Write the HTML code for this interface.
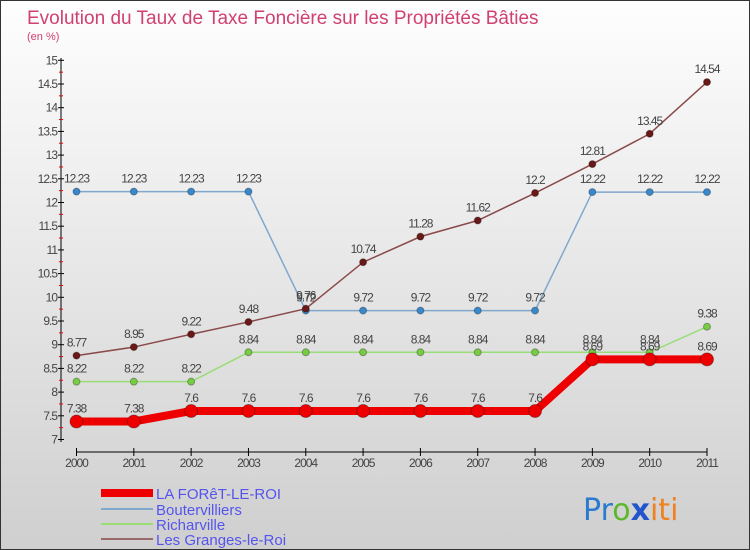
<!DOCTYPE html>
<html><head><meta charset="utf-8"><style>
body{margin:0}
#c{width:750px;height:550px;position:relative;overflow:hidden;font-family:"Liberation Sans",sans-serif;background:linear-gradient(#fefefe,#cfcfcf);box-sizing:border-box;border:1px solid #333;}
</style></head><body>
<div id="c">
<svg id="s" width="750" height="550" style="position:absolute;left:0;top:0">
<text x="26" y="23" font-size="19" fill="#d04070">Evolution du Taux de Taxe Foncière sur les Propriétés Bâties</text>
<text x="26" y="39" font-size="11" fill="#d04070">(en %)</text>
<g id="axes"></g><g id="series"></g>
<g>
<rect x="100" y="488" width="52" height="8" fill="#ee0000"/>
<text x="155" y="498" font-size="15" fill="#5555ee">LA FORêT-LE-ROI</text>
<rect x="100" y="507" width="52" height="2" fill="#80a8cc"/>
<text x="155" y="514" font-size="15" fill="#5555ee">Boutervilliers</text>
<rect x="100" y="522" width="52" height="2" fill="#99dd77"/>
<text x="155" y="529" font-size="15" fill="#5555ee">Richarville</text>
<rect x="100" y="537" width="52" height="2" fill="#9a6a6a"/>
<text x="155" y="544" font-size="15" fill="#5555ee">Les Granges-le-Roi</text>
</g>
<text x="582" y="519" font-size="30" font-family="'DejaVu Sans',sans-serif"><tspan fill="#2a7ad0">Pr</tspan><tspan fill="#5cb82a">o</tspan><tspan fill="#2255cc" font-weight="bold">x</tspan><tspan fill="#f08020">iti</tspan></text>
</svg>
</div>
<script>
const years=[2000,2001,2002,2003,2004,2005,2006,2007,2008,2009,2010,2011];
const laforet=[7.38,7.38,7.6,7.6,7.6,7.6,7.6,7.6,7.6,8.69,8.69,8.69];
const bouter=[12.23,12.23,12.23,12.23,9.72,9.72,9.72,9.72,9.72,12.22,12.22,12.22];
const richar=[8.22,8.22,8.22,8.84,8.84,8.84,8.84,8.84,8.84,8.84,8.84,9.38];
const granges=[8.77,8.95,9.22,9.48,9.76,10.74,11.28,11.62,12.2,12.81,13.45,14.54];
const yTicks=[7,7.5,8,8.5,9,9.5,10,10.5,11,11.5,12,12.5,13,13.5,14,14.5,15];
const NS="http://www.w3.org/2000/svg";
const X=i=>75.5+i*(706-75.5)/11;
const Y=v=>438.5-(v-7)*47.4;
function mk(t,a,p){const e=document.createElementNS(NS,t);for(const k in a)e.setAttribute(k,a[k]);p.appendChild(e);return e;}
const ax=document.getElementById('axes');
let l=mk('line',{x1:60,y1:57,x2:60,y2:441,stroke:'#000'},ax);


yTicks.forEach(v=>{
 mk('line',{x1:57,x2:63,y1:Y(v),y2:Y(v),stroke:'#000'},ax);
 const t=mk('text',{x:56,y:Y(v)+4,'font-size':12,fill:'#444','text-anchor':'end','letter-spacing':'-1'},ax);
 t.textContent=String(v);
 
 
});
for(let i=0;i<yTicks.length-1;i++){const v=yTicks[i]+0.25;mk('line',{x1:58,x2:62,y1:Y(v),y2:Y(v),stroke:'#e00'},ax);}
l=mk('line',{x1:X(0),y1:451,x2:X(11),y2:451,stroke:'#000'},ax);


years.forEach((y,i)=>{
 mk('line',{x1:X(i),x2:X(i),y1:447,y2:455,stroke:'#000'},ax);
 const t=mk('text',{x:X(i),y:466,'font-size':12,fill:'#444','text-anchor':'middle','letter-spacing':'-1'},ax);
 t.textContent=y;
 
 
});
const sg=document.getElementById('series');
function series(name,vals,color,dot,w,r){
 const g=mk('g',{},sg);
 
 
 const pl=mk('polyline',{points:vals.map((v,i)=>X(i)+','+Y(v)).join(' '),fill:'none',stroke:color,'stroke-width':w},g);
 
 
 vals.forEach((v,i)=>{
  const c=mk('circle',{cx:X(i),cy:Y(v),r:r,fill:dot,stroke:'rgba(0,0,0,0.3)'},g);
  
  
  const t=mk('text',{x:X(i),y:Y(v)-9,'font-size':12,fill:'#444','text-anchor':'middle','letter-spacing':'-1'},g);
  t.textContent=String(v);
  
  
 });
}
series('richarville',richar,'#99dd77','#77cc44',1.5,3.5);
series('boutervilliers',bouter,'#80a8cc','#3a88cc',1.5,3.5);
series('granges',granges,'#8a4a4a','#6a1818',1.5,3.5);
series('laforet',laforet,'#ee0000','#ee0000',8,6.5);
</script>
</body></html>
